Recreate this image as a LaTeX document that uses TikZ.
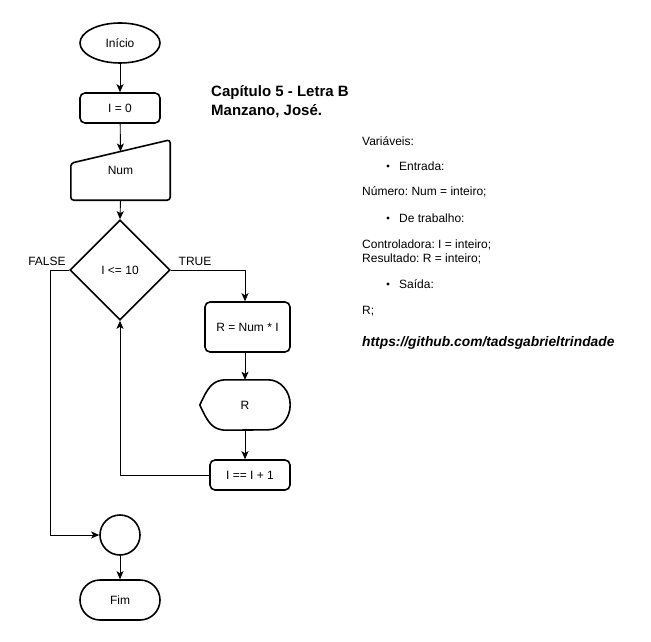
\documentclass[tikz,border=0pt]{standalone}
\usepackage{fontspec}
\setmainfont{Liberation Sans}
\usetikzlibrary{shapes.geometric,arrows.meta,calc}
\frenchspacing

\begin{document}
\begin{tikzpicture}[x=1pt,y=1pt,
  every node/.style={font=\fontsize{12}{14}\selectfont, inner sep=0pt},
  shapeline/.style={draw=black, line width=1.6pt},
  procbox/.style={shapeline, rectangle, rounded corners=5pt, minimum width=80pt, minimum height=30pt},
  termbox/.style={shapeline, rectangle, rounded corners=20pt, minimum width=80pt, minimum height=40pt},
  holder/.style={rectangle, draw=none},
  flow/.style={draw=black, line width=0.9pt, -{Stealth[length=8pt,width=7pt,inset=2pt]}},
  plain/.style={anchor=base west},
  dot/.style={circle, fill=black, minimum size=3.2pt},
  lbl/.style={font=\fontsize{12}{14}\selectfont}
]
\path[use as bounding box, fill=white] (0,0) rectangle (651,-642);

% ---- flowchart shapes ----
\node[shapeline, ellipse, minimum width=80pt, minimum height=40pt] (ini) at (120,-43) {Início};
\node[procbox] (izero) at (120,-108) {I = 0};

% manual input: slanted top edge
\node[holder, minimum width=99pt, minimum height=60pt] (num) at (120.5,-170) {Num};
\coordinate (numlow) at ($(num.south west)+(0,37)$);
\coordinate (numtop) at ($(numlow)!0.5!(num.north east)$);
\draw[shapeline, rounded corners=3pt]
  (numlow) -- (num.north east) -- (num.south east) -- (num.south west) -- cycle;

\node[shapeline, diamond, minimum width=100pt, minimum height=100pt, aspect=1] (dec) at (120,-270) {I <= 10};

\node[procbox, minimum width=85pt, minimum height=50pt] (calc) at (247.5,-327) {R = Num * I};

% display shape
\node[holder, minimum width=90pt, minimum height=50pt] (out) at (245,-405) {R};
\draw[shapeline]
  (out.west) .. controls ($(out.west)+(8,17)$) and ($(out.north west)+(12,0)$) .. ($(out.north west)+(27,0)$)
  -- ($(out.north east)+(-22,0)$)
  arc[start angle=90, end angle=-90, x radius=22, y radius=25]
  -- ($(out.south west)+(27,0)$)
  .. controls ($(out.south west)+(12,0)$) and ($(out.west)+(8,-17)$) .. (out.west) -- cycle;

\node[procbox] (inc) at (250,-475) {I == I + 1};

\node[shapeline, circle, minimum size=40pt] (join) at (120,-535) {};
\node[termbox] (fim) at (120,-600) {Fim};

% ---- connectors ----
\coordinate (fx) at (50,-270);
\draw[flow] (ini) -- (izero);
\draw[flow] (izero) -- (numtop);
\draw[flow] (num.south) -- (dec.north);
\draw[flow] (dec.east) -| (out.north |- calc.north);
\draw[flow] (out.north |- calc.south) -- (out.north);
\draw[flow] (out.south) -- (out.south |- inc.north);
\draw[flow] (inc.west) -| (dec.south);
\draw[flow] (dec.west) -- (fx) |- (join.west);
\draw[flow] (join) -- (fim);

\node[lbl] (tlbl) at (195,-261) {TRUE};
\node[lbl] (flbl) at (47,-261) {FALSE};

% ---- title ----
\node[anchor=base west, align=left, font=\bfseries\fontsize{15}{19}\selectfont] (title) at (211,-115.5)
  {Capítulo 5 - Letra B\\Manzano, José.};

% ---- notes ----
\node[plain] (v0) at (362,-145) {Variáveis:};
\node[dot] (b1) at (388,-166) {};
\node[plain] (v1) at (399,-170) {Entrada:};
\node[plain] (v2) at (362,-195) {Número: Num = inteiro;};
\node[dot] (b2) at (388,-218) {};
\node[plain] (v3) at (399,-222) {De trabalho:};
\node[plain] (v4) at (362,-248) {Controladora: I = inteiro;};
\node[plain] (v5) at (362,-262) {Resultado: R = inteiro;};
\node[dot] (b3) at (388,-284) {};
\node[plain] (v6) at (399,-288) {Saída:};
\node[plain] (v7) at (362,-314) {R;};
\node[plain, font=\bfseries\itshape\fontsize{13.8}{16}\selectfont] (url) at (362,-346)
  {https://github.com/tadsgabrieltrindade};
\end{tikzpicture}
\end{document}
